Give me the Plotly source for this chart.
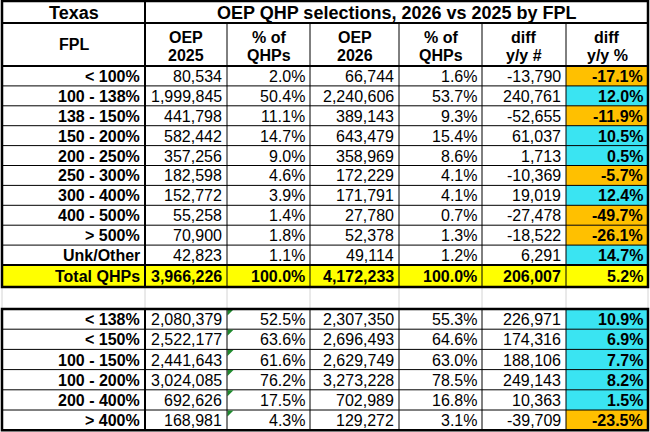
import plotly.graph_objects as go

# ---- table data ----
STATE = "Texas"
TITLE = "OEP QHP selections, 2026 vs 2025 by FPL"
HEADERS = [("FPL", ""), ("OEP", "2025"), ("% of", "QHPs"), ("OEP", "2026"),
           ("% of", "QHPs"), ("diff", "y/y #"), ("diff", "y/y %")]

FPL = ["< 100%", "100 - 138%", "138 - 150%", "150 - 200%", "200 - 250%",
       "250 - 300%", "300 - 400%", "400 - 500%", "> 500%", "Unk/Other"]
OEP_2025 = [80534, 1999845, 441798, 582442, 357256, 182598, 152772, 55258, 70900, 42823]
PCT_2025 = [2.0, 50.4, 11.1, 14.7, 9.0, 4.6, 3.9, 1.4, 1.8, 1.1]
OEP_2026 = [66744, 2240606, 389143, 643479, 358969, 172229, 171791, 27780, 52378, 49114]
PCT_2026 = [1.6, 53.7, 9.3, 15.4, 8.6, 4.1, 4.1, 0.7, 1.3, 1.2]
DIFF_N = [-13790, 240761, -52655, 61037, 1713, -10369, 19019, -27478, -18522, 6291]
DIFF_PCT = [-17.1, 12.0, -11.9, 10.5, 0.5, -5.7, 12.4, -49.7, -26.1, 14.7]

TOTAL_LABEL = "Total QHPs"
TOTAL = [3966226, 100.0, 4172233, 100.0, 206007, 5.2]

GRP = ["< 138%", "< 150%", "100 - 150%", "100 - 200%", "200 - 400%", "> 400%"]
GRP_2025 = [2080379, 2522177, 2441643, 3024085, 692626, 168981]
GRP_PCT_2025 = [52.5, 63.6, 61.6, 76.2, 17.5, 4.3]
GRP_2026 = [2307350, 2696493, 2629749, 3273228, 702989, 129272]
GRP_PCT_2026 = [55.3, 64.6, 63.0, 78.5, 16.8, 3.1]
GRP_DIFF_N = [226971, 174316, 188106, 249143, 10363, -39709]
GRP_DIFF_PCT = [10.9, 6.9, 7.7, 8.2, 1.5, -23.5]

# ---- layout constants (pixels) ----
COL_W = [143, 82, 83, 89, 83, 84, 82]
X0, Y0 = 2, 1
TITLE_H, HEAD_H, ROW_H, TOTAL_H, GAP_H, GRP_H = 22, 43, 19.9, 22, 22, 20.2
PAD = 3
FONT = "Liberation Sans"
FS = 16
ORANGE, CYAN, YELLOW = "#FFC000", "#3AE4F2", "#FFFF00"

col_x = [X0]
for w in COL_W:
    col_x.append(col_x[-1] + w)
XR = col_x[-1]

y_title = Y0
y_head = y_title + TITLE_H
y_data = y_head + HEAD_H
y_total = y_data + ROW_H * len(FPL)
y_gap = y_total + TOTAL_H
y_grp = y_gap + GAP_H
y_end = y_grp + GRP_H * len(GRP)

shapes = []
annots = []


def rect(x0, y0, x1, y1, fill):
    shapes.append(dict(type="rect", xref="x", yref="y", x0=x0, x1=x1, y0=y0, y1=y1,
                       fillcolor=fill, line=dict(width=0), layer="below"))


def line(x0, y0, x1, y1, w=1, color="black"):
    shapes.append(dict(type="line", xref="x", yref="y", x0=x0, x1=x1, y0=y0, y1=y1,
                       line=dict(color=color, width=w)))


def text(s, x, y, anchor="right", bold=False, size=FS):
    if bold:
        s = "<b>" + s + "</b>"
    annots.append(dict(text=s, x=x, y=y, xref="x", yref="y", xanchor=anchor,
                       yanchor="middle", showarrow=False,
                       font=dict(family=FONT, size=size, color="black")))


def fmt_n(v):
    return f"{v:,}"


def fmt_p(v):
    return f"{v:.1f}%"


def data_row(label, vals, top, h, fill_last, bold_all=False, row_fill=None):
    mid = top + h / 2 + 0.5
    if row_fill:
        rect(col_x[0], top, XR, top + h, row_fill)
    else:
        rect(col_x[6], top, col_x[7], top + h, fill_last)
    text(label, col_x[1] - PAD, mid, bold=True)
    strs = [fmt_n(vals[0]), fmt_p(vals[1]), fmt_n(vals[2]), fmt_p(vals[3]),
            fmt_n(vals[4]), fmt_p(vals[5])]
    for j, s in enumerate(strs):
        text(s, col_x[j + 2] - PAD, mid, bold=bold_all or j == 5)


# title + header
text(STATE, (col_x[0] + col_x[1]) / 2, y_title + TITLE_H / 2 + 0.5, anchor="center", bold=True, size=18)
text(TITLE, (col_x[1] + XR) / 2, y_title + TITLE_H / 2 + 0.5, anchor="center", bold=True, size=18)
for j, (a, b) in enumerate(HEADERS):
    cx = (col_x[j] + col_x[j + 1]) / 2
    if b:
        text(a, cx, y_head + 14, anchor="center", bold=True)
        text(b, cx, y_head + 32, anchor="center", bold=True)
    else:
        text(a, cx, y_head + HEAD_H / 2, anchor="center", bold=True)

# FPL rows
for i, lab in enumerate(FPL):
    top = y_data + i * ROW_H
    vals = [OEP_2025[i], PCT_2025[i], OEP_2026[i], PCT_2026[i], DIFF_N[i], DIFF_PCT[i]]
    data_row(lab, vals, top, ROW_H, ORANGE if DIFF_PCT[i] < 0 else CYAN)
    if i > 0:
        line(X0, top, XR, top)

data_row(TOTAL_LABEL, TOTAL, y_total, TOTAL_H, None, bold_all=True, row_fill=YELLOW)

# grouped rows
for i, lab in enumerate(GRP):
    top = y_grp + i * GRP_H
    vals = [GRP_2025[i], GRP_PCT_2025[i], GRP_2026[i], GRP_PCT_2026[i], GRP_DIFF_N[i], GRP_DIFF_PCT[i]]
    data_row(lab, vals, top, GRP_H, ORANGE if GRP_DIFF_PCT[i] < 0 else CYAN)
    if i > 0:
        line(X0, top, XR, top)
    # excel error-indicator triangle
    tx = col_x[2] + 0.5
    shapes.append(dict(type="path", xref="x", yref="y",
                       path=f"M {tx},{top + 0.5} L {tx + 6},{top + 0.5} L {tx},{top + 6.5} Z",
                       fillcolor="#1F8A2E", line=dict(width=0)))

# grid lines
for j in range(2, 7):
    line(col_x[j], y_head, col_x[j], y_gap)
    line(col_x[j], y_grp, col_x[j], y_end)
for j in range(0, 8):
    line(col_x[j], y_gap, col_x[j], y_grp, color="#D4D4D4")
line(col_x[1], y_title, col_x[1], y_gap, w=2)
line(col_x[1], y_grp, col_x[1], y_end, w=2)
line(X0, y_head, XR, y_head, w=2)
line(X0, y_data, XR, y_data, w=2)
line(X0, y_total, XR, y_total, w=2)
for a, b in [(y_title, y_gap), (y_grp, y_end)]:
    shapes.append(dict(type="rect", xref="x", yref="y", x0=X0, x1=XR, y0=a, y1=b,
                       line=dict(color="black", width=2.5), fillcolor="rgba(0,0,0,0)"))

fig = go.Figure()
fig.update_layout(
    width=650, height=432,
    margin=dict(l=0, r=0, t=0, b=0),
    paper_bgcolor="white", plot_bgcolor="white",
    xaxis=dict(range=[0, 650], visible=False, fixedrange=True),
    yaxis=dict(range=[432, 0], visible=False, fixedrange=True),
    shapes=shapes, annotations=annots, showlegend=False,
)
# drop the default page margin so the table sits flush in the window
fig.write_html("out.html", config={"displayModeBar": False},
               post_script="document.body.style.margin='0';document.body.style.overflow='hidden';")
